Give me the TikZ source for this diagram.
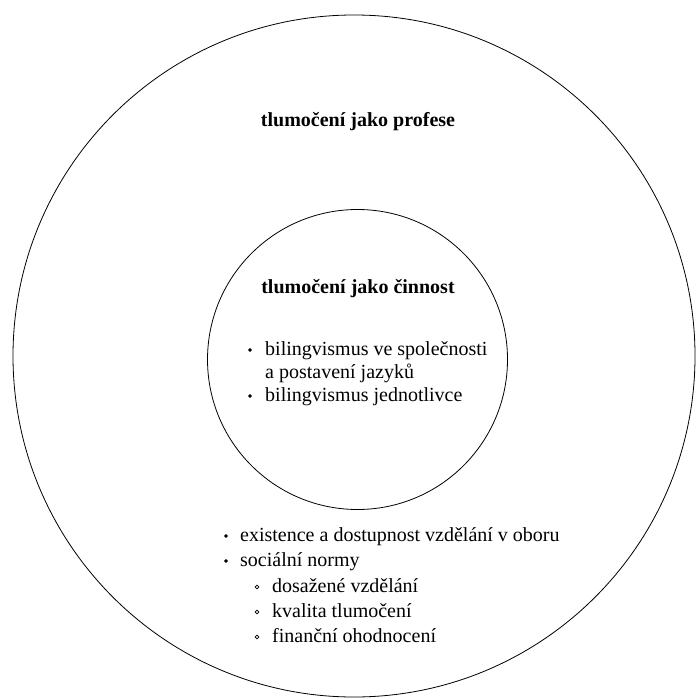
\documentclass[tikz,border=0pt]{standalone}
\usepackage{fontspec}
\setmainfont{Liberation Serif}
\usetikzlibrary{positioning}

\tikzset{
  ring/.style={draw, circle, line width=0.8pt, inner sep=0pt},
  heading/.style={anchor=base, inner sep=0pt, font=\fontsize{20}{24}\selectfont\bfseries},
  entry/.style={anchor=base west, inner sep=0pt, font=\fontsize{20}{24}\selectfont},
}

\begin{document}
\begin{tikzpicture}[x=1pt, y=-1pt]
\useasboundingbox (0,0) rectangle (695,700);

% circles
\node[ring, minimum size=682pt] (outer) at (354, 356) {};
\node[ring, minimum size=300pt] (inner) at (357.5, 359.5) {};

% headings
\node[heading] (prof) at (358, 127) {tlumočení jako profese};
\node[heading] (cinn) at (358, 293) {tlumočení jako činnost};

% inner list
\def\xi{265}
\node[entry] (ia) at (\xi, 355) {bilingvismus ve společnosti};
\node[entry] (ib) at (\xi, 378) {a postavení jazyků};
\node[entry] (ic) at (\xi, 401) {bilingvismus jednotlivce};
\filldraw[black] ([xshift=-15pt, yshift=5pt]ia.base west) circle (1.6pt);
\filldraw[black] ([xshift=-15pt, yshift=5pt]ic.base west) circle (1.6pt);

% outer list
\def\xa{240}
\def\xb{272}
\node[entry] (oa) at (\xa, 541) {existence a dostupnost vzdělání v oboru};
\node[entry] (ob) at (\xa, 566) {sociální normy};
\node[entry] (oc) at (\xb, 592) {dosažené vzdělání};
\node[entry] (od) at (\xb, 617) {kvalita tlumočení};
\node[entry] (oe) at (\xb, 642) {finanční ohodnocení};
\filldraw[black] ([xshift=-14pt, yshift=5pt]oa.base west) circle (1.6pt);
\filldraw[black] ([xshift=-14pt, yshift=5pt]ob.base west) circle (1.6pt);
\draw[line width=0.7pt] ([xshift=-15pt, yshift=5pt]oc.base west) circle (1.8pt);
\draw[line width=0.7pt] ([xshift=-15pt, yshift=5pt]od.base west) circle (1.8pt);
\draw[line width=0.7pt] ([xshift=-15pt, yshift=5pt]oe.base west) circle (1.8pt);

\end{tikzpicture}
\end{document}
